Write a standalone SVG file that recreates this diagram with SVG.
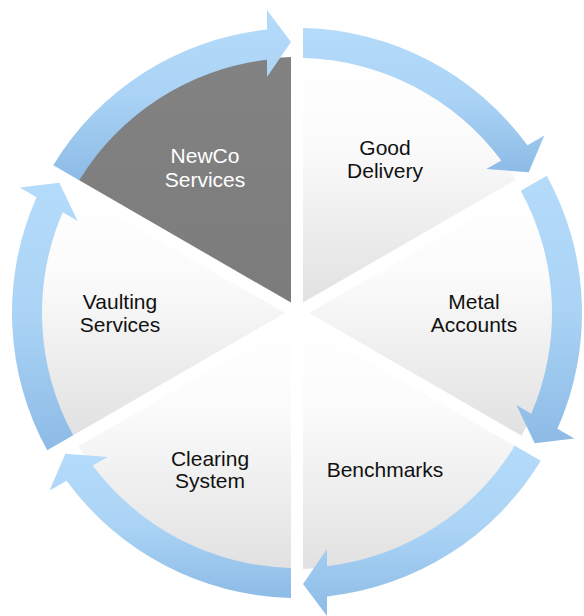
<svg xmlns="http://www.w3.org/2000/svg" width="584" height="616" viewBox="0 0 584 616">
  <defs>
    <linearGradient id="wedgeGrad" x1="0" y1="0" x2="0" y2="1">
      <stop offset="0" stop-color="#FFFFFF"/>
      <stop offset="0.35" stop-color="#FBFBFB"/>
      <stop offset="1" stop-color="#E1E1E1"/>
    </linearGradient>
    <linearGradient id="darkGrad" x1="0" y1="0" x2="0" y2="1">
      <stop offset="0" stop-color="#828282"/>
      <stop offset="1" stop-color="#7C7C7C"/>
    </linearGradient>
    <linearGradient id="arrowGrad" x1="0" y1="0" x2="0" y2="1">
      <stop offset="0" stop-color="#B5DBFA"/>
      <stop offset="0.5" stop-color="#AAD3F5"/>
      <stop offset="1" stop-color="#8DBBE6"/>
    </linearGradient>
  </defs>
  <style>
    .wedge { fill: url(#wedgeGrad); stroke: none; }
    .dark { fill: url(#darkGrad); stroke: none; }
    .arrow { fill: url(#arrowGrad); stroke: none; }
    .lbl { font-family: "Liberation Sans", Arial, sans-serif; font-size: 21px; fill: #111111; text-anchor: middle; }
    .lblw { font-family: "Liberation Sans", Arial, sans-serif; font-size: 21px; fill: #FFFFFF; text-anchor: middle; }
  </style>

  <g id="good-delivery">
    <path class="wedge" d="M303,302.61 L303,57.07 A256,256 0 0 1 515.64,179.83 Z"/>
    <text class="lbl" x="385" y="155">Good</text>
    <text class="lbl" x="385" y="178">Delivery</text>
  </g>
  <g id="metal-accounts">
    <path class="wedge" d="M309,313 L521.64,190.23 A256,256 0 0 1 521.64,435.77 Z"/>
    <text class="lbl" x="474" y="309">Metal</text>
    <text class="lbl" x="474" y="332">Accounts</text>
  </g>
  <g id="benchmarks">
    <path class="wedge" d="M303,323.39 L515.64,446.17 A256,256 0 0 1 303,568.93 Z"/>
    <text class="lbl" x="385" y="477">Benchmarks</text>
  </g>
  <g id="clearing-system">
    <path class="wedge" d="M291,323.39 L291,568.93 A256,256 0 0 1 78.36,446.17 Z"/>
    <text class="lbl" x="210" y="466">Clearing</text>
    <text class="lbl" x="210" y="488">System</text>
  </g>
  <g id="vaulting-services">
    <path class="wedge" d="M285,313 L72.36,435.77 A256,256 0 0 1 72.36,190.23 Z"/>
    <text class="lbl" x="120" y="309">Vaulting</text>
    <text class="lbl" x="120" y="332">Services</text>
  </g>
  <g id="newco-services">
    <path class="dark" d="M291,302.61 L78.36,179.83 A256,256 0 0 1 291,57.07 Z"/>
    <text class="lblw" x="205" y="163">NewCo</text>
    <text class="lblw" x="205" y="187">Services</text>
  </g>

  <g id="connectors">
    <path class="arrow" d="M303,28.06 A285,285 0 0 1 527.45,145.31 L544.40,135.52 L528.69,172.30 L486.38,169.02 L501.30,160.40 A255,255 0 0 0 303,58.07 Z"/>
    <path class="arrow" d="M546.76,175.73 A285,285 0 0 1 557.45,428.73 L574.40,438.52 L534.69,443.30 L516.38,405.02 L531.30,413.64 A255,255 0 0 0 520.77,190.73 Z"/>
    <path class="arrow" d="M540.76,460.67 A285,285 0 0 1 327,596.42 L327,616 L303,584 L327,549 L327,566.23 A255,255 0 0 0 514.77,445.67 Z"/>
    <path class="arrow" d="M291,597.94 A285,285 0 0 1 66.55,480.69 L49.60,490.48 L65.31,453.70 L107.62,456.98 L92.70,465.60 A255,255 0 0 0 291,567.93 Z"/>
    <path class="arrow" d="M47.24,450.27 A285,285 0 0 1 36.55,197.27 L19.60,187.48 L59.31,182.70 L77.62,220.98 L62.70,212.36 A255,255 0 0 0 73.23,435.27 Z"/>
    <path class="arrow" d="M53.24,165.33 A285,285 0 0 1 267,29.58 L267,10 L291,42 L267,77 L267,59.77 A255,255 0 0 0 79.23,180.33 Z"/>
  </g>
</svg>
